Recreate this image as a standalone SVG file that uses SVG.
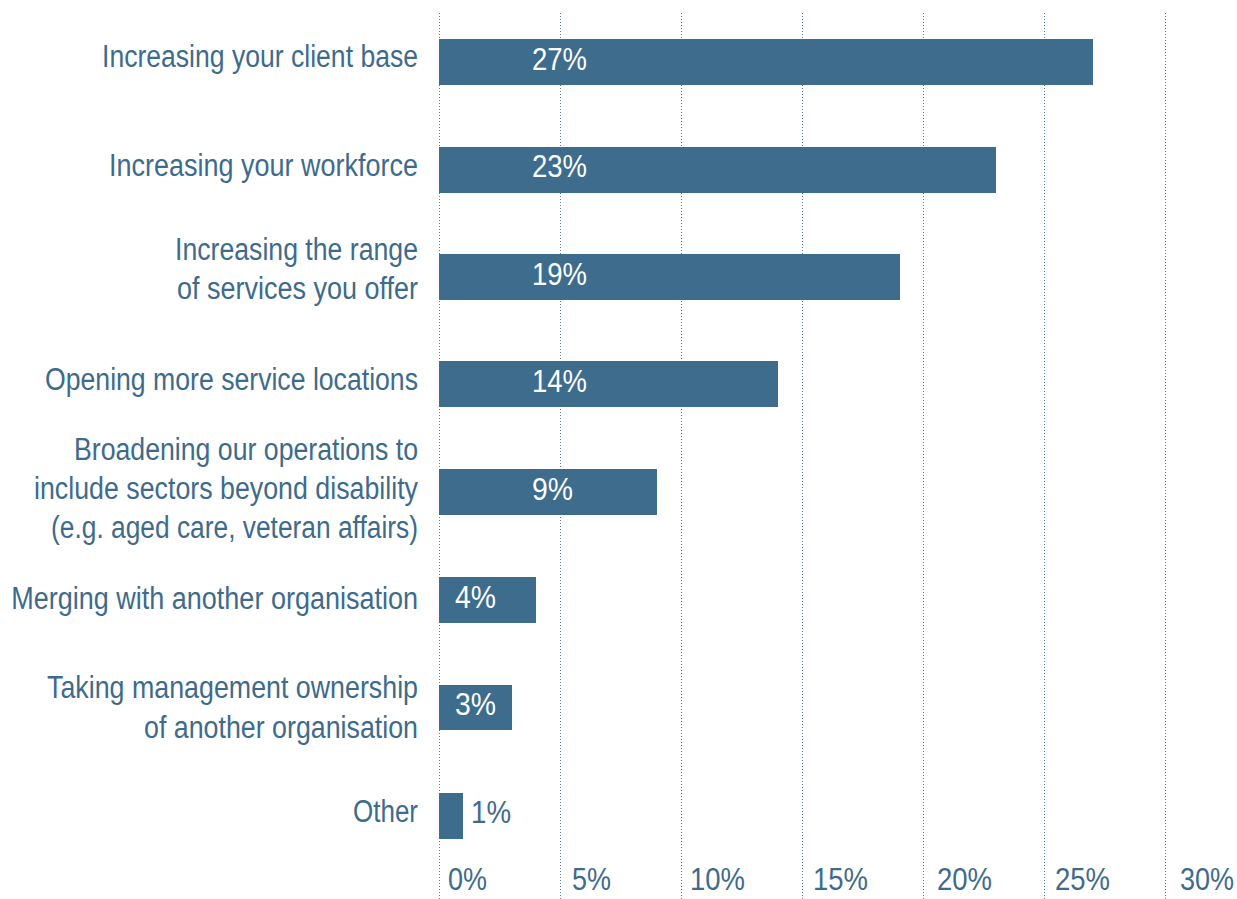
<svg xmlns="http://www.w3.org/2000/svg" width="1237" height="899" viewBox="0 0 1237 899">
<style>
.grid{stroke:#4f7fa6;stroke-width:1;stroke-dasharray:1 2}
.bar{fill:#3d6c8d}
.lbl{font-family:"Liberation Sans",Arial,sans-serif;font-size:31px;fill:#3e6b8c;text-anchor:end}
.val{font-family:"Liberation Sans",Arial,sans-serif;font-size:31px;fill:#ffffff}
.out{font-family:"Liberation Sans",Arial,sans-serif;font-size:31px;fill:#3e6b8c}
.ax{font-family:"Liberation Sans",Arial,sans-serif;font-size:31px;fill:#3e6b8c}
</style>
<rect width="1237" height="899" fill="#ffffff"/>
<g id="gridlines">
<line class="grid" x1="439.5" y1="13" x2="439.5" y2="899"/>
<line class="grid" x1="560.5" y1="13" x2="560.5" y2="899"/>
<line class="grid" x1="681.5" y1="13" x2="681.5" y2="899"/>
<line class="grid" x1="802.5" y1="13" x2="802.5" y2="899"/>
<line class="grid" x1="923.5" y1="13" x2="923.5" y2="899"/>
<line class="grid" x1="1044.5" y1="13" x2="1044.5" y2="899"/>
<line class="grid" x1="1165.5" y1="13" x2="1165.5" y2="899"/>
</g>
<g id="axis-labels">
<text class="ax" x="448" y="890" textLength="39" lengthAdjust="spacingAndGlyphs">0%</text>
<text class="ax" x="572" y="890" textLength="39" lengthAdjust="spacingAndGlyphs">5%</text>
<text class="ax" x="690" y="890" textLength="55" lengthAdjust="spacingAndGlyphs">10%</text>
<text class="ax" x="813" y="890" textLength="55" lengthAdjust="spacingAndGlyphs">15%</text>
<text class="ax" x="937" y="890" textLength="55" lengthAdjust="spacingAndGlyphs">20%</text>
<text class="ax" x="1055" y="890" textLength="55" lengthAdjust="spacingAndGlyphs">25%</text>
<text class="ax" transform="translate(1180,890) scale(0.87,1)">30%</text>
</g>
<g id="row-client-base">
<text class="lbl" x="418" y="67" textLength="316" lengthAdjust="spacingAndGlyphs">Increasing your client base</text>
<rect class="bar" x="439" y="39" width="654" height="46"/>
<text class="val" x="532" y="70" textLength="55" lengthAdjust="spacingAndGlyphs">27%</text>
</g>
<g id="row-workforce">
<text class="lbl" x="418" y="176" textLength="309" lengthAdjust="spacingAndGlyphs">Increasing your workforce</text>
<rect class="bar" x="439" y="147" width="557" height="46"/>
<text class="val" x="532" y="177" textLength="55" lengthAdjust="spacingAndGlyphs">23%</text>
</g>
<g id="row-range">
<text class="lbl" x="418" y="260" textLength="243" lengthAdjust="spacingAndGlyphs">Increasing the range</text>
<text class="lbl" x="418" y="299" textLength="241" lengthAdjust="spacingAndGlyphs">of services you offer</text>
<rect class="bar" x="439" y="254" width="461" height="46"/>
<text class="val" x="532" y="285" textLength="55" lengthAdjust="spacingAndGlyphs">19%</text>
</g>
<g id="row-locations">
<text class="lbl" x="418" y="390" textLength="373" lengthAdjust="spacingAndGlyphs">Opening more service locations</text>
<rect class="bar" x="439" y="361" width="339" height="46"/>
<text class="val" x="532" y="392" textLength="55" lengthAdjust="spacingAndGlyphs">14%</text>
</g>
<g id="row-broadening">
<text class="lbl" x="418" y="460" textLength="344" lengthAdjust="spacingAndGlyphs">Broadening our operations to</text>
<text class="lbl" x="418" y="499" textLength="384" lengthAdjust="spacingAndGlyphs">include sectors beyond disability</text>
<text class="lbl" x="418" y="538" textLength="367" lengthAdjust="spacingAndGlyphs">(e.g. aged care, veteran affairs)</text>
<rect class="bar" x="439" y="469" width="218" height="46"/>
<text class="val" x="532" y="500" textLength="41" lengthAdjust="spacingAndGlyphs">9%</text>
</g>
<g id="row-merging">
<text class="lbl" transform="translate(418,609) scale(0.8715,1)">Merging with another organisation</text>
<rect class="bar" x="439" y="577" width="97" height="46"/>
<text class="val" x="455" y="608" textLength="41" lengthAdjust="spacingAndGlyphs">4%</text>
</g>
<g id="row-management">
<text class="lbl" transform="translate(418,698) scale(0.865,1)">Taking management ownership</text>
<text class="lbl" x="418" y="738" textLength="274" lengthAdjust="spacingAndGlyphs">of another organisation</text>
<rect class="bar" x="439" y="685" width="73" height="45"/>
<text class="val" x="455" y="715" textLength="41" lengthAdjust="spacingAndGlyphs">3%</text>
</g>
<g id="row-other">
<text class="lbl" x="418" y="822" textLength="65" lengthAdjust="spacingAndGlyphs">Other</text>
<rect class="bar" x="439" y="793" width="24" height="46"/>
<text class="out" x="471" y="823" textLength="40" lengthAdjust="spacingAndGlyphs">1%</text>
</g>
</svg>
